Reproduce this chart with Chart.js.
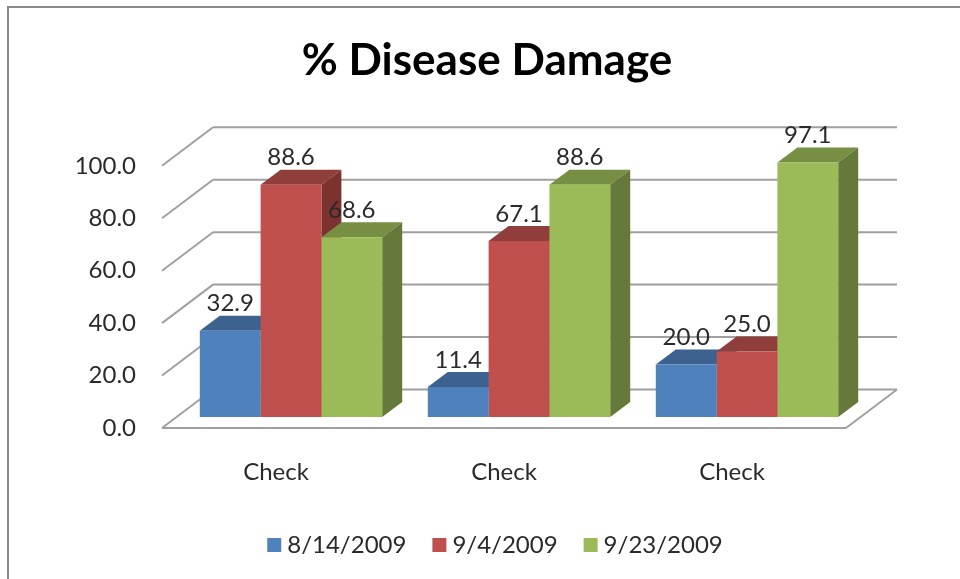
<!DOCTYPE html>
<html>
<head>
<meta charset="utf-8">
<title>% Disease Damage</title>
<script src="https://cdn.jsdelivr.net/npm/chart.js@4"></script>
<style>
    html, body { margin: 0; padding: 0; background: #fff; }
    canvas { display: block; }
</style>
</head>
<body>
<canvas id="chart" width="960" height="579"></canvas>
<script>
// Data
const categories = ['Check', 'Check', 'Check'];
const seriesNames = ['8/14/2009', '9/4/2009', '9/23/2009'];
const aug14 = [32.9, 11.4, 20.0];
const sep4 = [88.6, 67.1, 25.0];
const sep23 = [68.6, 88.6, 97.1];
const yTicks = [0, 20, 40, 60, 80, 100];

const FONT = 'Lato, "Open Sans", sans-serif';
const TEXT = '#2a2a2a';
const GRID = '#a0a0a0';

// front, top and side colours of each series
const COLORS = [
    { front: '#4f81bd', top: '#3d628f', side: '#375a85' },
    { front: '#c0504d', top: '#8f3e3b', side: '#7c322f' },
    { front: '#9bbb59', top: '#778f43', side: '#657a3a' }
];

// Fake 3D offsets
const WALL = { dx: 51, dy: -38.5 };   // front of the floor to the back wall
const BAR = { dx: 15, dy: -11 };      // bars sit a bit inside the floor
const DEPTH = { dx: 20, dy: -15 };    // depth of one bar

function line(ctx, x1, y1, x2, y2) {
    ctx.beginPath();
    ctx.moveTo(x1, y1);
    ctx.lineTo(x2, y2);
    ctx.stroke();
}

function poly(ctx, pts, color) {
    ctx.fillStyle = color;
    ctx.beginPath();
    pts.forEach((p, i) => i ? ctx.lineTo(p[0], p[1]) : ctx.moveTo(p[0], p[1]));
    ctx.closePath();
    ctx.fill();
}

const fake3d = {
    id: 'fake3d',
    afterLayout(chart) {
        // title and legend are not centred on the plot in the original
        chart.titleBlock.left = 128;
        chart.titleBlock.right = 846;
        chart.legend.left += 75;
        chart.legend.right += 75;
        chart.legend.top -= 12;
        chart.legend.bottom -= 12;
    },
    beforeDraw(chart) {
        const ctx = chart.ctx;
        const area = chart.chartArea;
        const y = chart.scales.y;

        ctx.save();
        ctx.fillStyle = '#fff';
        ctx.fillRect(0, 0, chart.width, chart.height);

        // frame, only top and left are inside the picture
        ctx.strokeStyle = '#8a8a8a';
        ctx.lineWidth = 2;
        ctx.beginPath();
        ctx.moveTo(8, chart.height);
        ctx.lineTo(8, 7);
        ctx.lineTo(chart.width, 7);
        ctx.stroke();

        // grid on the back wall and the side wall
        ctx.strokeStyle = GRID;
        yTicks.forEach(v => {
            const py = y.getPixelForValue(v);
            line(ctx, area.left, py, area.left + WALL.dx, py + WALL.dy);
            line(ctx, area.left + WALL.dx, py + WALL.dy, area.right + WALL.dx, py + WALL.dy);
        });

        // floor
        const base = y.getPixelForValue(0);
        line(ctx, area.left, base, area.right, base);
        line(ctx, area.right, base, area.right + WALL.dx, base + WALL.dy);
        ctx.restore();
    },
    beforeDatasetsDraw(chart) {
        // tops and sides first, series by series, the library paints the fronts after
        const ctx = chart.ctx;
        ctx.save();
        ctx.translate(BAR.dx, BAR.dy);
        chart.data.datasets.forEach((ds, i) => {
            const c = COLORS[i];
            chart.getDatasetMeta(i).data.forEach(el => {
                const l = el.x - el.width / 2;
                const r = el.x + el.width / 2;
                poly(ctx, [[l, el.y], [l + DEPTH.dx, el.y + DEPTH.dy], [r + DEPTH.dx, el.y + DEPTH.dy], [r, el.y]], c.top);
                poly(ctx, [[r, el.y], [r + DEPTH.dx, el.y + DEPTH.dy], [r + DEPTH.dx, el.base + DEPTH.dy], [r, el.base]], c.side);
            });
        });
    },
    afterDatasetsDraw(chart) {
        const ctx = chart.ctx;
        ctx.restore();

        // value labels
        ctx.save();
        ctx.font = '24px ' + FONT;
        ctx.fillStyle = TEXT;
        ctx.textAlign = 'center';
        ctx.textBaseline = 'middle';
        chart.data.datasets.forEach((ds, i) => {
            chart.getDatasetMeta(i).data.forEach((el, j) => {
                ctx.fillText(ds.data[j].toFixed(1), el.x + BAR.dx, el.y + BAR.dy - 27);
            });
        });
        ctx.restore();
    }
};

const allSeries = [aug14, sep4, sep23];

new Chart(document.getElementById('chart'), {
    type: 'bar',
    data: {
        labels: categories,
        datasets: allSeries.map((values, i) => ({
            label: seriesNames[i],
            data: values,
            backgroundColor: COLORS[i].front,
            categoryPercentage: 0.8,
            barPercentage: 1,
            clip: false
        }))
    },
    options: {
        responsive: false,
        animation: false,
        layout: {
            autoPadding: false,
            padding: { left: 0, right: 114, top: 34, bottom: 0 }
        },
        scales: {
            x: {
                grid: { display: false },
                border: { display: false },
                ticks: { color: TEXT, font: { family: FONT, size: 24 }, padding: 22, maxRotation: 0 },
                afterFit(scale) { scale.height = 85; }
            },
            y: {
                min: 0,
                max: 100,
                grid: { display: false },
                border: { display: false },
                afterBuildTicks(scale) { scale.ticks = yTicks.map(v => ({ value: v })); },
                ticks: {
                    color: TEXT,
                    font: { family: FONT, size: 24 },
                    padding: 18,
                    callback: v => v.toFixed(1)
                },
                afterFit(scale) { scale.width = 162; }
            }
        },
        plugins: {
            title: {
                display: true,
                text: '% Disease Damage',
                color: '#000',
                font: { family: FONT, size: 44, weight: 'bold' },
                padding: { top: 0, bottom: 79 }
            },
            legend: {
                position: 'bottom',
                labels: {
                    color: TEXT,
                    font: { family: FONT, size: 24 },
                    usePointStyle: true,
                    pointStyle: 'rect',
                    boxWidth: 2,
                    boxHeight: 14,
                    padding: 32
                }
            },
            tooltip: { enabled: false }
        }
    },
    plugins: [fake3d]
});
</script>
</body>
</html>
